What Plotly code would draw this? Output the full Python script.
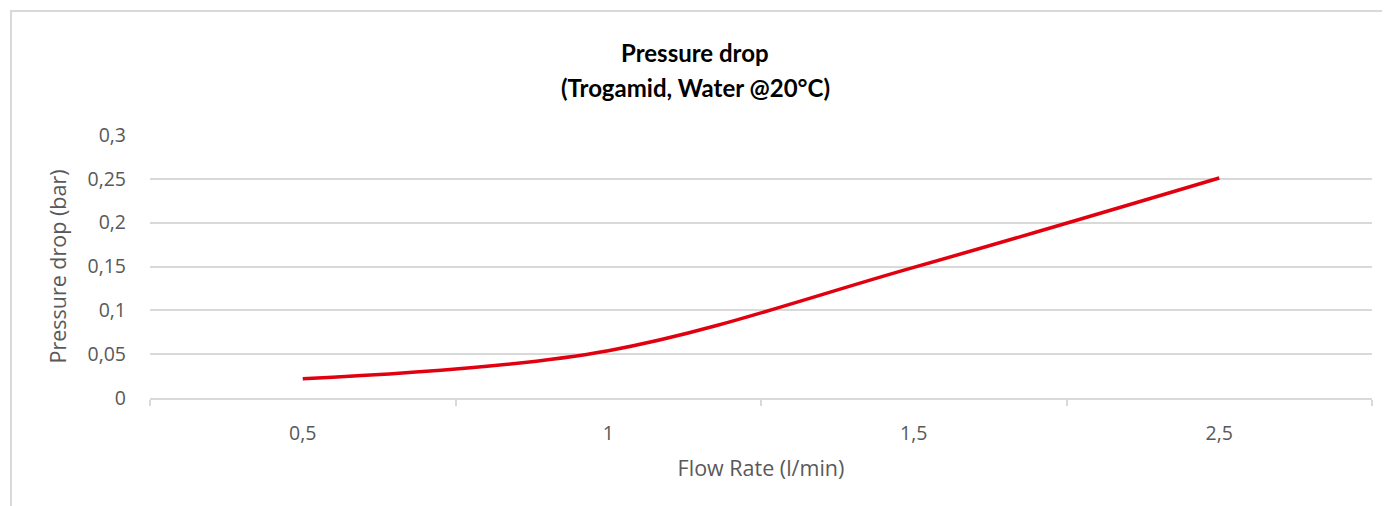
import plotly.graph_objects as go

# Data
flow_rate = [0.5, 1.0, 1.5, 2.5]          # l/min (category axis)
flow_labels = ["0,5", "1", "1,5", "2,5"]
pressure_drop = [0.022, 0.054, 0.149, 0.251]  # bar
y_ticks = [0, 0.05, 0.1, 0.15, 0.2, 0.25, 0.3]
y_tick_labels = ["0", "0,05", "0,1", "0,15", "0,2", "0,25", "0,3"]

# the page body adds an 8px offset, so the figure is sized to compensate
OFF = 8
W, H = 1390 - OFF, 506 - OFF
L, R, T, B = 150 - OFF, 18, 135 - OFF, 108
plot_w = W - L - R
plot_h = H - T - B

def px_to_paper_x(px):
    return (px - OFF - L) / plot_w

def px_to_paper_y(py):
    return (H - B - (py - OFF)) / plot_h

grey = "#595959"
grid = "#d9d9d9"
font_family = "Open Sans, Segoe UI, DejaVu Sans, sans-serif"

fig = go.Figure()
fig.add_trace(go.Scatter(
    x=flow_labels,
    y=pressure_drop,
    mode="lines",
    line=dict(color="#e1000f", width=3.5, shape="spline", smoothing=1.0),
    hoverinfo="x+y",
    showlegend=False,
))

fig.update_layout(
    width=W, height=H,
    margin=dict(l=L, r=R, t=T, b=B),
    paper_bgcolor="white",
    plot_bgcolor="white",
    font=dict(family=font_family, color=grey, size=19),
    xaxis=dict(
        type="category",
        categoryorder="array",
        categoryarray=flow_labels,
        range=[-0.5, len(flow_labels) - 0.5],
        tickson="boundaries",
        ticks="outside",
        ticklen=6,
        tickwidth=1.5,
        tickcolor=grid,
        showline=True,
        linecolor=grid,
        linewidth=1.5,
        showgrid=False,
        tickfont=dict(size=19.5, color=grey),
        ticklabelstandoff=17,
        title=dict(text="Flow Rate (l/min)", font=dict(size=21.5, color=grey), standoff=16),
        fixedrange=True,
    ),
    yaxis=dict(
        range=[0, 0.3],
        tickvals=y_ticks,
        ticktext=y_tick_labels,
        showgrid=True,
        gridcolor=grid,
        gridwidth=1.5,
        zeroline=False,
        showline=False,
        ticks="",
        ticklabelstandoff=23,
        tickfont=dict(size=19.5, color=grey),
        title=dict(text="Pressure drop (bar)", font=dict(size=21.5, color=grey), standoff=14),
        fixedrange=True,
    ),
    annotations=[
        dict(text="<b>Pressure drop</b>", xref="paper", yref="paper",
             x=px_to_paper_x(695), y=px_to_paper_y(52), xanchor="center", yanchor="middle",
             showarrow=False, font=dict(family="Lato, Open Sans, sans-serif", size=24, color="#000000")),
        dict(text="<b>(Trogamid, Water @20°C)</b>", xref="paper", yref="paper",
             x=px_to_paper_x(695), y=px_to_paper_y(88), xanchor="center", yanchor="middle",
             showarrow=False, font=dict(family="Lato, Open Sans, sans-serif", size=24, color="#000000")),
    ],
    shapes=[
        dict(type="rect", xref="paper", yref="paper",
             x0=px_to_paper_x(11), y0=px_to_paper_y(560),
             x1=px_to_paper_x(1450), y1=px_to_paper_y(11),
             line=dict(color=grid, width=2), fillcolor="rgba(0,0,0,0)", layer="below"),
    ],
)

fig.write_html("out.html")
